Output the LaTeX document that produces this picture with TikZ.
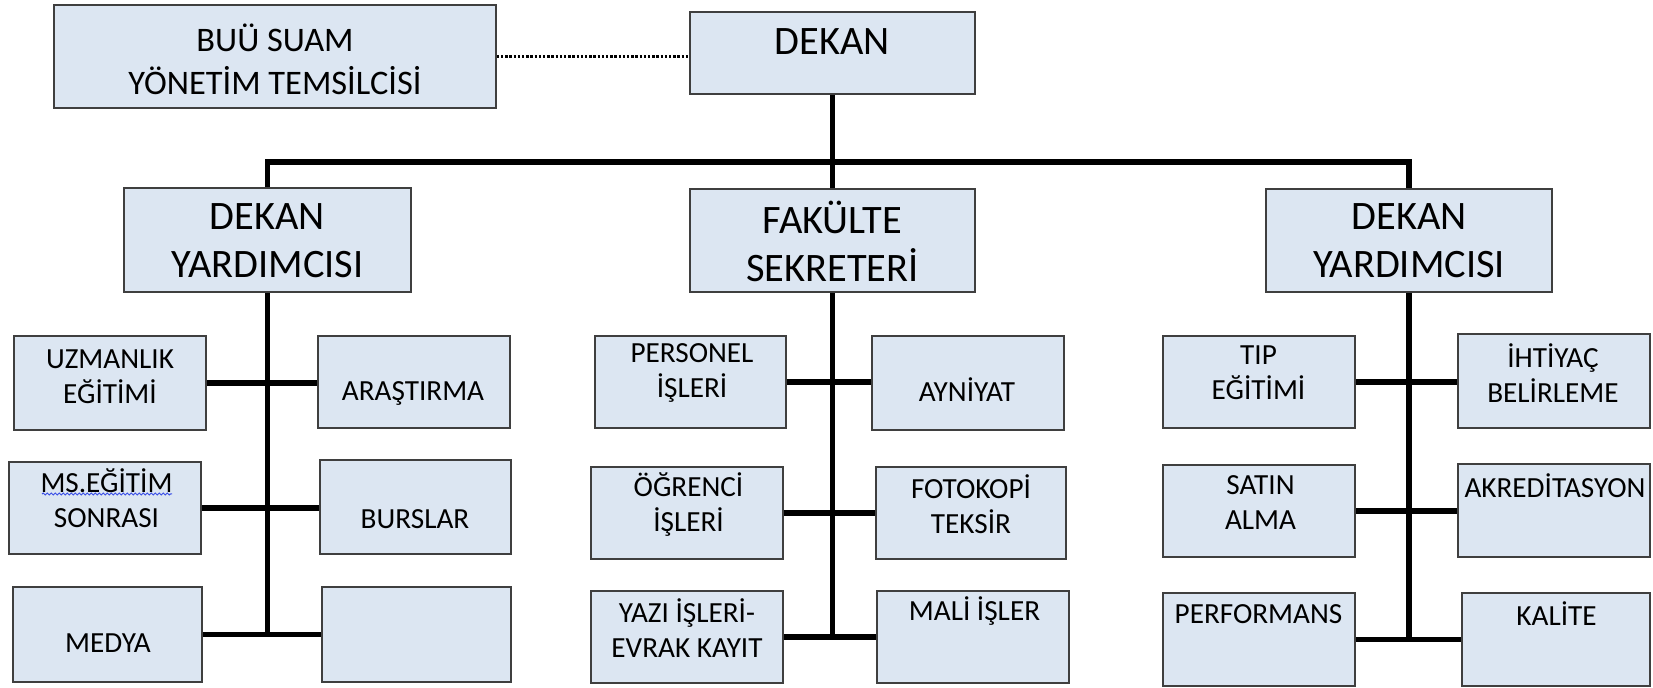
\documentclass[tikz,border=0pt]{standalone}
\usepackage{fontspec}
\setmainfont{Carlito}
\usetikzlibrary{fit,decorations.pathmorphing}
\definecolor{boxfill}{HTML}{DCE6F2}
\definecolor{boxline}{HTML}{3F3F3F}
\definecolor{spell}{HTML}{3C50E6}
\tikzset{
  box/.style={draw=boxline, fill=boxfill, line width=0.8pt, inner sep=0pt},
  lbl/.style={align=center, inner sep=0pt, text=black},
  big/.style={lbl, font=\fontsize{20.2}{24}\selectfont},
  mid/.style={lbl, font=\fontsize{17.2}{21.5}\selectfont},
  small/.style={lbl, font=\fontsize{14.6}{17.5}\selectfont},
  link/.style={line width=2.6pt},
  dotline/.style={line width=1.3pt, dash pattern=on 1.2pt off 0.9pt},
}
\begin{document}
\begin{tikzpicture}[x=0.5pt, y=-0.5pt]
  \useasboundingbox (0,0) rectangle (1653,688);
  % top boxes: name / left / top / right / bottom
  \foreach \n/\xa/\ya/\xb/\yb in {suam/54/5/496/108, dekan/690/12/975/94,
      dyL/124/188/411/292, fak/690/189/975/292, dyR/1266/189/1552/292} {
    \coordinate (\n-a) at (\xa,\ya);
    \coordinate (\n-b) at (\xb,\yb);
    \node[box, fit=(\n-a)(\n-b)] (\n) {};
  }
  \node[mid] (suam-t) at (275,59) {BUÜ SUAM\\YÖNETİM TEMSİLCİSİ};
  \node[big] (dekan-t) at (832.5,41.5) {DEKAN};
  \node[big] (dyL-t) at (267.5,241) {DEKAN\\YARDIMCISI};
  \node[big] (fak-t) at (832.5,241) {FAKÜLTE\\SEKRETERİ};
  \node[big] (dyR-t) at (1409,241) {DEKAN\\YARDIMCISI};
  % unit boxes: name / left / top / right / bottom / text x / text y / text
  \foreach \n/\xa/\ya/\xb/\yb/\tx/\ty/\t in {
      uzm/14/336/206/430/110/377/{UZMANLIK\\EĞİTİMİ},
      ara/318/336/510/428/413/393/{ARAŞTIRMA},
      ms/9/462/201/554/106.5/498/{MS.EĞİTİM\\SONRASI},
      burs/320/460/511/554/415/519.5/{BURSLAR},
      med/13/587/202/682/108/643.5/{MEDYA},
      bos/322/587/511/682/416/634/{},
      pers/595/336/786/428/692/373/{PERSONEL\\İŞLERİ},
      ayn/872/336/1064/430/967/390/{AYNİYAT},
      ogr/591/467/783/559/688.5/505/{ÖĞRENCİ\\İŞLERİ},
      foto/876/467/1066/559/971/504/{FOTOKOPİ\\TEKSİR},
      yazi/591/591/783/683/687/628.5/{YAZI İŞLERİ-\\EVRAK KAYIT},
      mali/877/591/1069/683/974.5/611/{MALİ İŞLER},
      tip/1163/336/1355/428/1258.5/373/{TIP\\EĞİTİMİ},
      iht/1458/334/1650/428/1553/373/{İHTİYAÇ\\BELİRLEME},
      satin/1163/465/1355/557/1260.5/502.5/{SATIN\\ALMA},
      akr/1458/464/1650/557/1555/485.5/{AKREDİTASYON},
      perf/1163/593/1355/686/1258.5/614/{PERFORMANS},
      kal/1462/593/1650/686/1556.5/613.5/{KALİTE}} {
    \coordinate (\n-a) at (\xa,\ya);
    \coordinate (\n-b) at (\xb,\yb);
    \node[box, fit=(\n-a)(\n-b)] (\n) {};
    \node[small] (\n-t) at (\tx,\ty) {\t};
  }
  % spell-check mark
  \draw[spell, line width=0.5pt, decorate,
    decoration={snake, amplitude=0.45pt, segment length=2pt}] (42,494) -- (172,494);
  % links
  \coordinate (bus) at (833,162);
  \draw[dotline] (suam.east) -- (suam.east -| dekan.west);
  \draw[link] (dekan) -- (fak);
  \draw[link] (dyL.north) |- (bus) -| (dyR.north);
  \foreach \top/\last in {dyL/med, fak/yazi, dyR/perf}
    \draw[link] (\top.south) -- ([yshift=-1.3pt]\top.south |- \last.east);
  \foreach \l/\r in {uzm/ara, ms/burs, med/bos, pers/ayn, ogr/foto, yazi/mali,
      tip/iht, satin/akr, perf/kal}
    \draw[link] (\l.east) -- (\l.east -| \r.west);
\end{tikzpicture}
\end{document}
